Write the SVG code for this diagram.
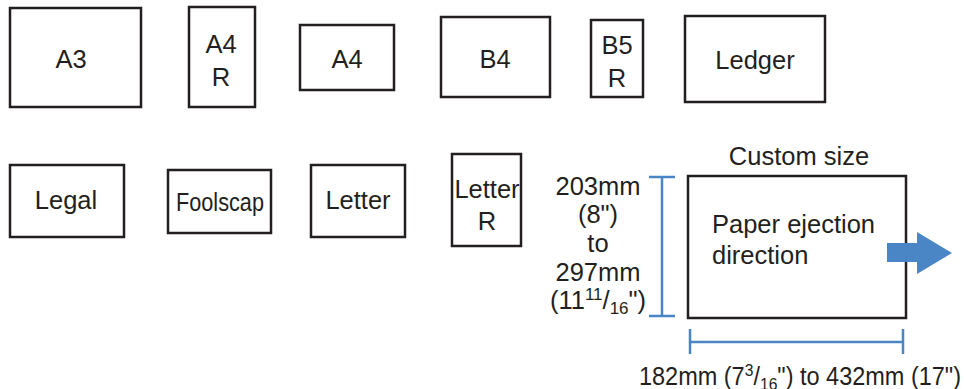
<svg xmlns="http://www.w3.org/2000/svg" width="964" height="389" viewBox="0 0 964 389">
<style>
.box{fill:#fff;stroke:#231f20;stroke-width:2.5}
.t{font-family:"Liberation Sans",Arial,sans-serif;font-size:25.5px;fill:#231f20;text-anchor:middle}
.s{text-anchor:start}
.dim{stroke:#4a86c6;stroke-width:2.5;fill:none}
</style>
<rect width="964" height="389" fill="#fff"/>
<g id="A3"><rect class="box" x="10" y="8" width="131" height="99"/><text class="t" x="71" y="68">A3</text></g>
<g id="A4R"><rect class="box" x="189" y="7" width="66" height="100"/><text class="t" x="221" y="53">A4</text><text class="t" x="221" y="86">R</text></g>
<g id="A4"><rect class="box" x="300" y="25" width="94" height="65"/><text class="t" x="347" y="68">A4</text></g>
<g id="B4"><rect class="box" x="441" y="17" width="109" height="80"/><text class="t" x="495" y="68">B4</text></g>
<g id="B5R"><rect class="box" x="591" y="20" width="52" height="77"/><text class="t" x="617" y="54">B5</text><text class="t" x="617" y="87">R</text></g>
<g id="Ledger"><rect class="box" x="685" y="16" width="140" height="86"/><text class="t" x="755" y="69">Ledger</text></g>
<g id="Legal"><rect class="box" x="10" y="165" width="114" height="72"/><text class="t" x="66" y="209">Legal</text></g>
<g id="Foolscap"><rect class="box" x="168" y="170" width="103" height="63"/><text class="t" x="220" y="211" textLength="88" lengthAdjust="spacingAndGlyphs">Foolscap</text></g>
<g id="Letter"><rect class="box" x="311" y="165" width="94" height="72"/><text class="t" x="358" y="209">Letter</text></g>
<g id="LetterR"><rect class="box" x="452" y="154" width="69" height="92"/><text class="t" x="487" y="198">Letter</text><text class="t" x="487" y="230">R</text></g>
<g id="Custom">
<text class="t" x="799" y="165">Custom size</text>
<rect class="box" x="688" y="176" width="218" height="142"/>
<text class="t s" x="712" y="233">Paper ejection</text>
<text class="t s" x="712" y="264">direction</text>
</g>
<g id="connectors">
<path class="dim" d="M649 177H675M662 177V316M649 316H675"/>
<path class="dim" d="M690 329V354M690 342H903M903 329V354"/>
<path fill="#4a86c6" d="M887 243H917V232L952 253L917 274V262H887Z"/>
</g>
<g id="labels">
<text class="t" x="598" y="195">203mm</text>
<text class="t" x="598" y="223">(8")</text>
<text class="t" x="598" y="252">to</text>
<text class="t" x="598" y="281">297mm</text>
<text class="t" x="598" y="309">(11<tspan font-size="17" dy="-9">11</tspan><tspan dy="9">/</tspan><tspan font-size="17" dy="5">16</tspan><tspan dy="-5">")</tspan></text>
<text class="t s" x="639" y="385" textLength="322" lengthAdjust="spacingAndGlyphs">182mm (7<tspan font-size="17" dy="-9">3</tspan><tspan dy="9">/</tspan><tspan font-size="17" dy="5">16</tspan><tspan dy="-5">") to 432mm (17")</tspan></text>
</g>
</svg>
